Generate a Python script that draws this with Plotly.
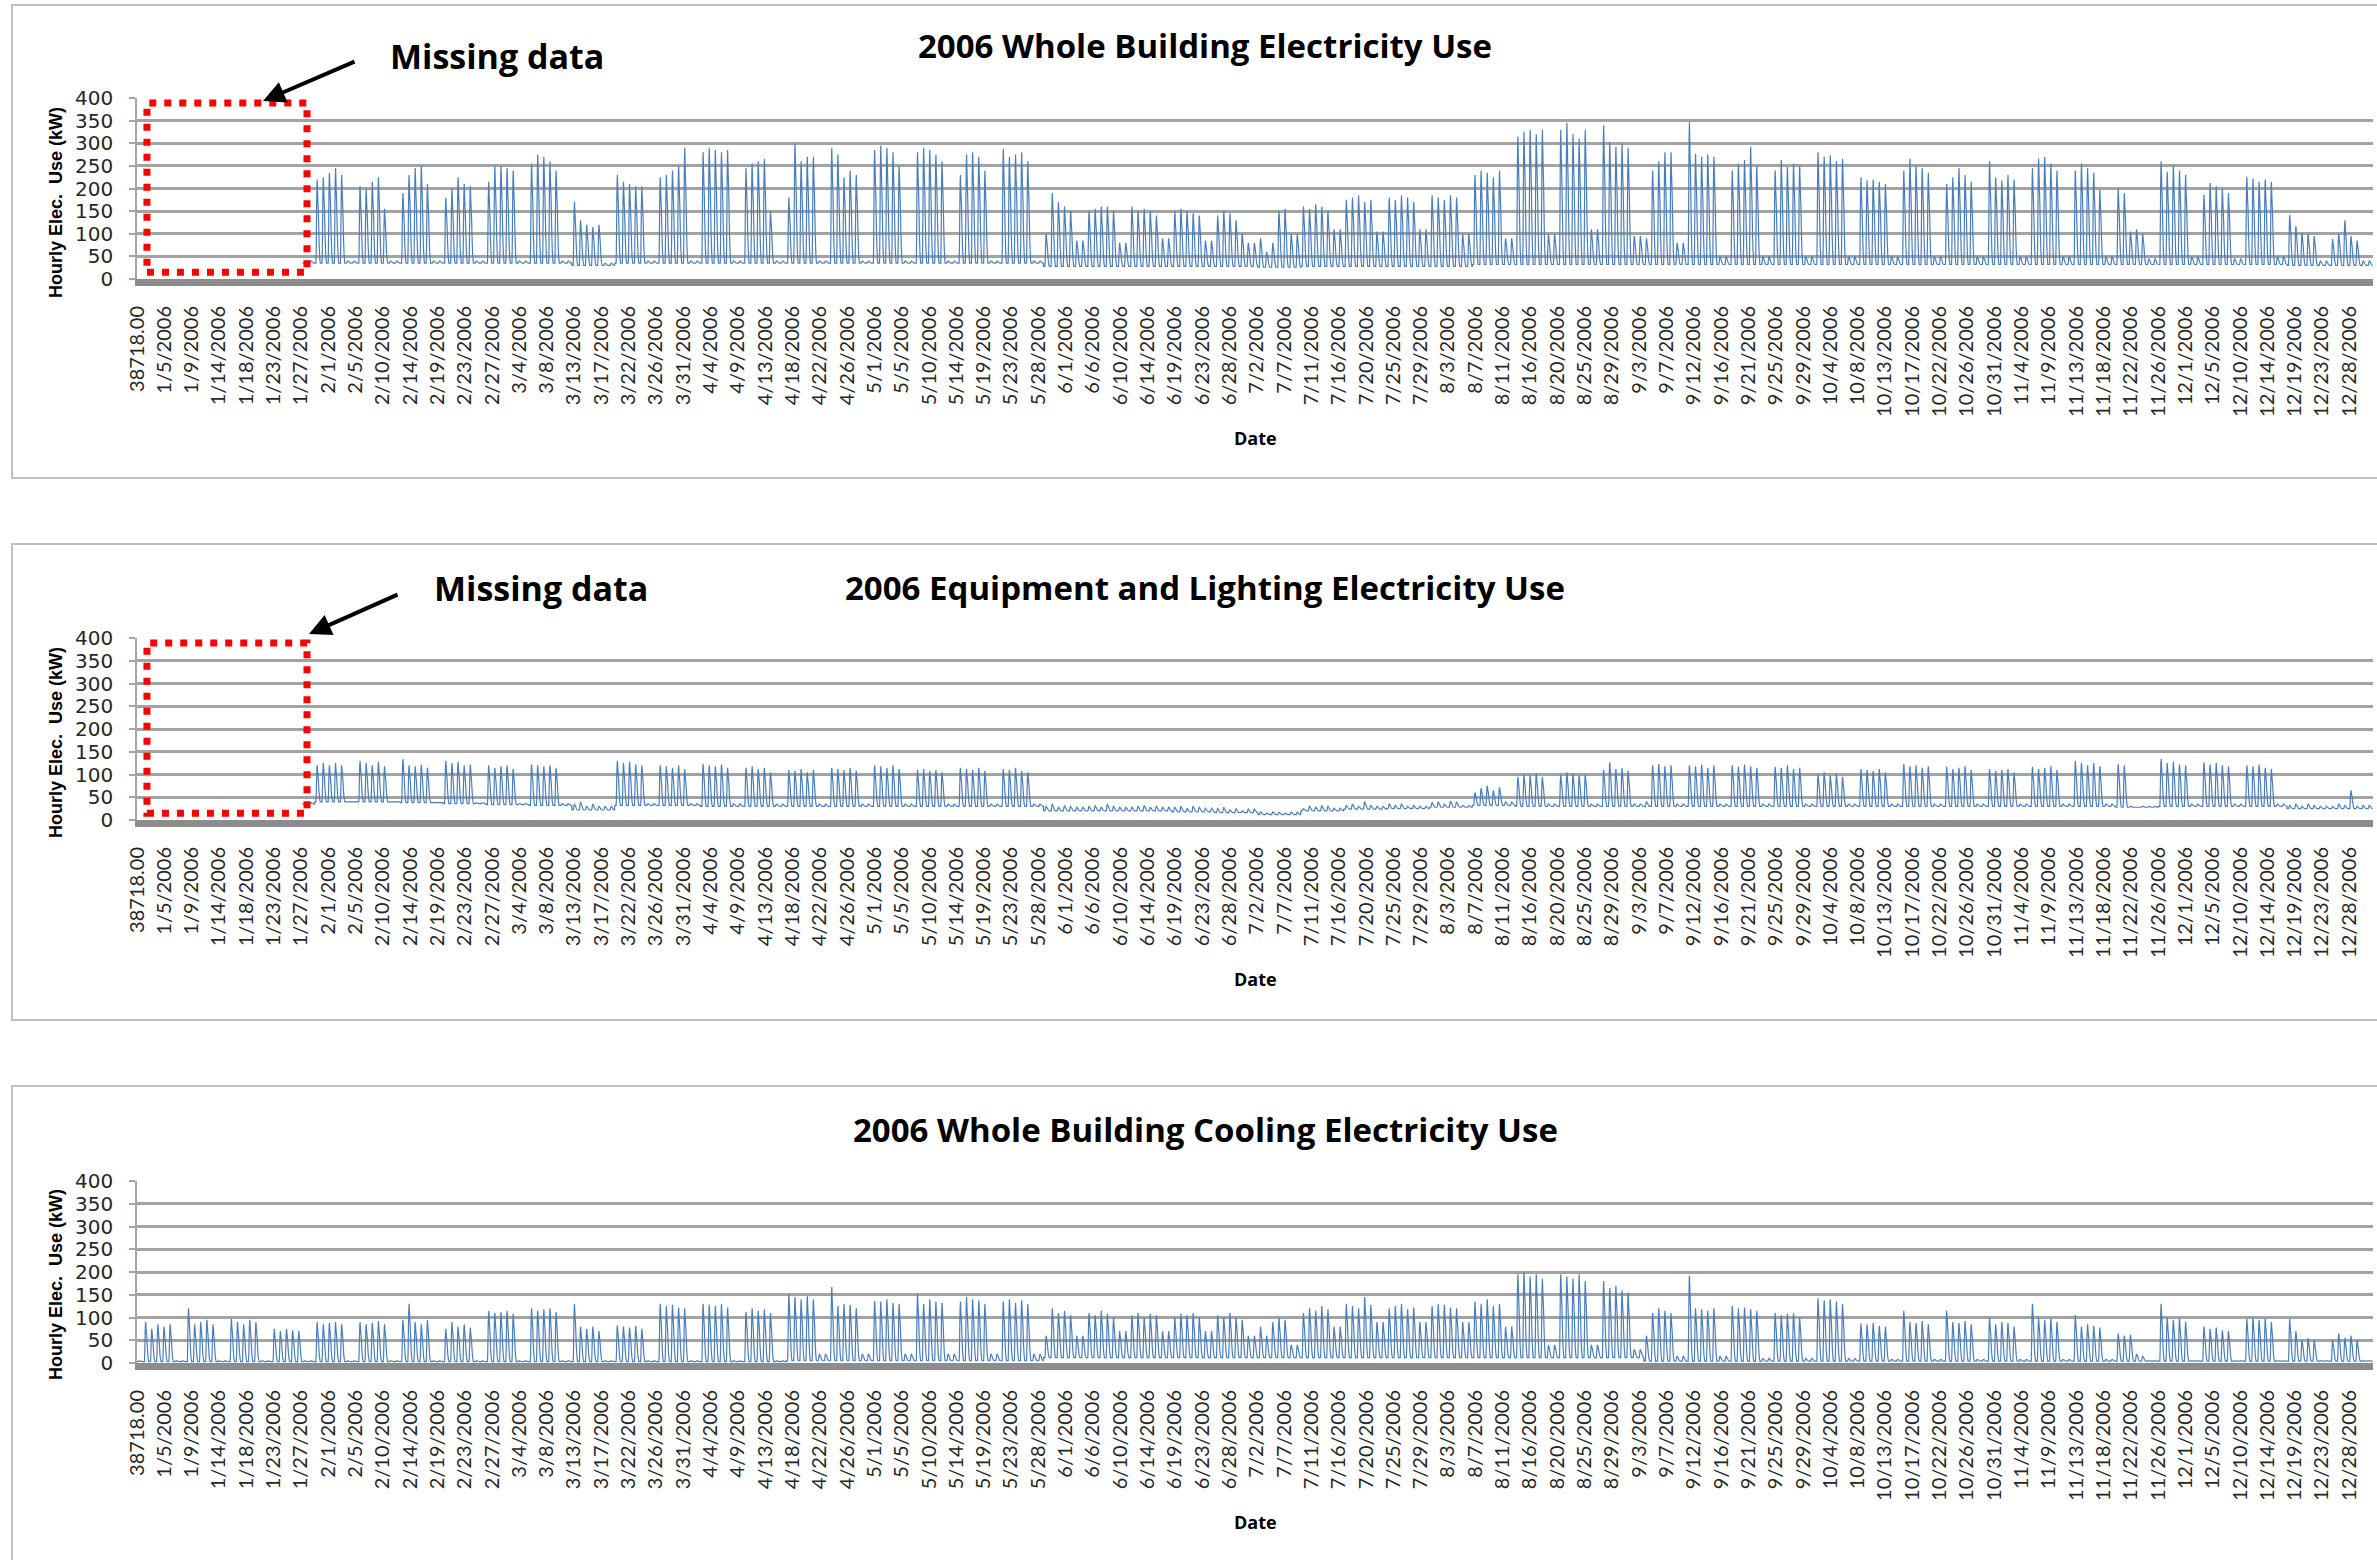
import datetime as dt
import plotly.graph_objects as go

W, H = 2377, 1560
YEAR_START = dt.date(2006, 1, 1)
HOURS = 8760

# ---------------- tick labels (Excel category axis, one label every 107 hours) ----------------
tick_labels = ["38718.00", "1/5/2006", "1/9/2006", "1/14/2006", "1/18/2006", "1/23/2006", "1/27/2006",
               "2/1/2006", "2/5/2006", "2/10/2006", "2/14/2006", "2/19/2006", "2/23/2006", "2/27/2006",
               "3/4/2006", "3/8/2006", "3/13/2006", "3/17/2006", "3/22/2006", "3/26/2006", "3/31/2006",
               "4/4/2006", "4/9/2006", "4/13/2006", "4/18/2006", "4/22/2006", "4/26/2006",
               "5/1/2006", "5/5/2006", "5/10/2006", "5/14/2006", "5/19/2006", "5/23/2006", "5/28/2006",
               "6/1/2006", "6/6/2006", "6/10/2006", "6/14/2006", "6/19/2006", "6/23/2006", "6/28/2006",
               "7/2/2006", "7/7/2006", "7/11/2006", "7/16/2006", "7/20/2006", "7/25/2006", "7/29/2006",
               "8/3/2006", "8/7/2006", "8/11/2006", "8/16/2006", "8/20/2006", "8/25/2006", "8/29/2006",
               "9/3/2006", "9/7/2006", "9/12/2006", "9/16/2006", "9/21/2006", "9/25/2006", "9/29/2006",
               "10/4/2006", "10/8/2006", "10/13/2006", "10/17/2006", "10/22/2006", "10/26/2006", "10/31/2006",
               "11/4/2006", "11/9/2006", "11/13/2006", "11/18/2006", "11/22/2006", "11/26/2006",
               "12/1/2006", "12/5/2006", "12/10/2006", "12/14/2006", "12/19/2006", "12/23/2006", "12/28/2006"]
tick_step_hours = 107

# ---------------- data ----------------
# Weekday (Mon-Fri) daily peaks, one row per week starting Monday 1/2/2006 (kW)
whole_peaks = [
    None, None, None, None,
    [220, 225, 235, 245, 230], [205, 200, 215, 225, 155], [190, 230, 245, 250, 210],
    [180, 200, 225, 210, 205], [215, 250, 250, 245, 240], [255, 275, 270, 260, 240],
    [170, 130, 120, 115, 120], [230, 215, 210, 205, 205], [225, 230, 240, 250, 290],
    [280, 290, 285, 280, 285], [245, 255, 260, 265, 150], [180, 300, 260, 270, 270],
    [290, 275, 225, 240, 230], [285, 295, 290, 280, 250], [280, 290, 285, 275, 260],
    [230, 275, 280, 270, 240], [288, 270, 275, 280, 260], [100, 190, 170, 160, 150],
    [150, 155, 160, 160, 150], [160, 150, 155, 150, 140], [150, 155, 150, 145, 140],
    [140, 150, 145, 130, 100], [90, 60, 80, 150, 155], [160, 155, 165, 160, 150],
    [175, 180, 185, 170, 175], [180, 175, 185, 180, 170], [185, 180, 175, 185, 180],
    [230, 240, 235, 225, 240], [315, 325, 330, 320, 330], [330, 345, 320, 310, 330],
    [340, 303, 292, 300, 290], [90, 240, 260, 280, 280], [347, 277, 270, 275, 270],
    [240, 255, 263, 292, 250], [240, 263, 248, 255, 250], [280, 270, 273, 260, 265],
    [225, 218, 220, 215, 210], [240, 266, 250, 245, 235], [210, 225, 245, 230, 215],
    [260, 225, 218, 230, 220], [245, 266, 270, 255, 240], [240, 255, 245, 235, 197],
    [200, 190, 105, 110, 100], [260, 237, 250, 240, 230], [186, 212, 205, 200, 190],
    [226, 222, 215, 220, 215], [142, 117, 102, 100, 95], [88, 100, 130, 95, 85],
]
whole_weekend = [40, 40, 40, 40, 40, 40, 40, 40, 40, 40, 35, 40, 40, 40, 40, 40, 40, 40, 40, 40, 40,
                 85, 80, 90, 85, 80, 100, 110, 105, 110, 100, 90, 100, 110, 95, 80,
                 50, 50, 50, 50, 50, 50, 50, 50, 50, 50, 45, 50, 45, 50, 40, 40]
whole_night = [35, 35, 35, 35, 35, 35, 35, 35, 35, 35, 30, 35, 35, 35, 35, 35, 35, 35, 35, 35, 35,
               28, 28, 28, 28, 28, 26, 28, 28, 28, 28, 32, 32, 32, 32, 32,
               32, 32, 32, 32, 32, 32, 32, 32, 32, 32, 32, 32, 32, 32, 30, 30]
whole_first_date = "2006-01-28"

equip_peaks = [
    None, None, None, None,
    [120, 125, 120, 125, 120], [130, 125, 120, 128, 118], [134, 120, 118, 122, 115],
    [130, 125, 128, 120, 122], [120, 115, 118, 120, 112], [122, 120, 118, 120, 115],
    [35, 40, 30, 35, 30], [130, 125, 128, 122, 120], [120, 118, 115, 120, 112],
    [123, 120, 118, 122, 115], [115, 118, 112, 115, 105], [110, 108, 112, 105, 110],
    [115, 112, 110, 115, 108], [120, 118, 115, 120, 112], [110, 112, 108, 110, 105],
    [115, 112, 110, 115, 108], [112, 110, 115, 108, 105], [30, 35, 28, 32, 30],
    [30, 32, 28, 35, 30], [28, 30, 32, 28, 30], [28, 30, 25, 30, 28],
    [25, 28, 22, 25, 20], [18, 15, 18, 17, 15], [25, 30, 28, 32, 30],
    [32, 35, 30, 40, 32], [35, 32, 35, 30, 32], [38, 40, 35, 42, 40],
    [60, 70, 75, 65, 72], [95, 100, 98, 102, 95], [100, 105, 102, 98, 100],
    [110, 127, 112, 115, 108], [40, 120, 123, 118, 120], [120, 118, 122, 115, 120],
    [120, 117, 122, 118, 115], [117, 115, 120, 112, 115], [100, 105, 98, 102, 95],
    [112, 110, 108, 112, 105], [123, 118, 120, 115, 118], [117, 112, 115, 118, 110],
    [112, 108, 110, 112, 105], [117, 112, 115, 118, 110], [130, 125, 120, 125, 118],
    [123, 120, 30, 28, 30], [134, 125, 128, 122, 120], [127, 122, 125, 120, 118],
    [120, 118, 122, 115, 112], [32, 35, 30, 35, 32], [30, 35, 32, 65, 30],
]
equip_weekend = [38, 38, 38, 38, 40, 40, 38, 38, 36, 36, 30, 36, 36, 36, 35, 35, 35, 35, 35, 35, 35,
                 28, 28, 28, 26, 24, 17, 26, 30, 30, 32, 40, 35, 35, 35, 35,
                 35, 35, 35, 35, 35, 35, 35, 35, 35, 35, 30, 35, 35, 35, 30, 32]
equip_night = [35, 35, 35, 35, 40, 40, 38, 36, 34, 32, 22, 32, 32, 30, 30, 30, 30, 30, 30, 30, 30,
               20, 20, 20, 18, 16, 12, 20, 24, 25, 28, 32, 30, 30, 30, 30,
               30, 30, 30, 30, 30, 30, 30, 30, 30, 30, 28, 30, 30, 30, 25, 25]
equip_first_date = "2006-01-28"

cool_peaks = [
    [90, 75, 85, 80, 85], [120, 85, 90, 95, 85], [97, 90, 85, 95, 90],
    [75, 70, 75, 72, 70], [90, 85, 88, 90, 85], [90, 85, 88, 92, 85],
    [95, 130, 90, 85, 95], [75, 90, 80, 85, 78], [115, 110, 112, 115, 108],
    [120, 115, 118, 120, 112], [130, 80, 75, 80, 70], [83, 80, 78, 82, 75],
    [130, 125, 128, 122, 120], [130, 128, 125, 130, 122], [112, 120, 115, 118, 110],
    [152, 145, 140, 148, 140], [167, 125, 130, 128, 120], [137, 135, 140, 132, 130],
    [152, 130, 140, 135, 132], [135, 145, 140, 138, 130], [135, 140, 132, 138, 130],
    [60, 120, 110, 115, 105], [110, 105, 115, 108, 100], [105, 110, 100, 108, 105],
    [100, 108, 105, 110, 100], [105, 100, 110, 100, 95], [80, 60, 90, 100, 95],
    [110, 120, 115, 125, 118], [130, 125, 120, 145, 128], [120, 125, 130, 118, 122],
    [125, 130, 128, 122, 120], [135, 130, 140, 125, 130], [195, 200, 190, 195, 185],
    [195, 190, 185, 195, 180], [180, 165, 170, 160, 155], [60, 110, 120, 115, 110],
    [192, 120, 118, 115, 120], [125, 120, 122, 118, 115], [110, 105, 108, 110, 100],
    [142, 138, 140, 135, 130], [87, 85, 88, 82, 80], [115, 90, 88, 92, 85],
    [115, 90, 88, 92, 85], [100, 85, 90, 88, 80], [130, 100, 95, 98, 90],
    [105, 80, 85, 82, 78], [65, 60, 62, 20, 15], [130, 100, 95, 98, 90],
    [80, 75, 78, 72, 70], [97, 100, 95, 98, 90], [97, 70, 50, 55, 50],
    [50, 65, 55, 60, 50],
]
cool_weekend = [5, 5, 5, 5, 5, 5, 5, 5, 5, 5, 5, 5, 5, 5, 5, 20, 20, 20, 20, 20, 20,
                60, 70, 70, 70, 60, 40, 80, 90, 90, 90, 80, 40, 40, 30,
                15, 15, 10, 10, 10, 8, 8, 8, 8, 8, 8, 5, 5, 5, 5, 5, 5]
cool_night = [3, 3, 3, 3, 3, 3, 3, 3, 3, 3, 3, 3, 3, 3, 3, 5, 5, 5, 5, 5, 5,
              12, 12, 12, 12, 12, 12, 12, 12, 12, 12, 12, 12, 12, 12,
              4, 4, 4, 4, 4, 4, 4, 4, 4, 4, 4, 4, 4, 4, 4, 4, 4]
cool_first_date = "2006-01-01"

# typical within-day load shape (fraction of the day's peak above the night level)
hour_shape = [0.0, 0.0, 0.0, 0.0, 0.0, 0.0, 0.15, 0.45, 0.75, 0.92, 1.0, 0.9,
              0.8, 0.72, 0.65, 0.55, 0.42, 0.3, 0.2, 0.12, 0.07, 0.03, 0.0, 0.0]

titles = ["2006 Whole Building Electricity Use",
          "2006 Equipment and Lighting Electricity Use",
          "2006 Whole Building Cooling Electricity Use"]


def hourly(peaks, weekend, night, first_date):
    first_day = (dt.date.fromisoformat(first_date) - YEAR_START).days
    xs, ys = [], []
    for h in range(HOURS):
        d, hod = divmod(h, 24)
        xs.append(h)
        if d < first_day:
            ys.append(None)
            continue
        wk = max(0, (d - 1) // 7)
        dow = (d - 1) % 7
        base = night[wk]
        if dow < 5 and peaks[wk] is not None:
            pk = peaks[wk][dow]
        else:
            pk = weekend[wk]
        ys.append(base + (pk - base) * hour_shape[hod])
    return xs, ys


series = [hourly(whole_peaks, whole_weekend, whole_night, whole_first_date),
          hourly(equip_peaks, equip_weekend, equip_night, equip_first_date),
          hourly(cool_peaks, cool_weekend, cool_night, cool_first_date)]

# ---------------- layout helpers (pixel -> paper) ----------------
def px(x):
    return x / W


def py(y):
    return 1 - y / H


panels = [
    dict(box=(5, 478), top=98, bottom=279, title=45, date=438, ylab=203),
    dict(box=(544, 1020), top=638, bottom=820, title=587, date=979, ylab=743),
    dict(box=(1086, 1620), top=1181, bottom=1363, title=1129, date=1522, ylab=1285),
]

PLOT_LEFT, PLOT_RIGHT = 137, 2373
LINE_COLOR = "#4a7ebb"
TICK_FONT = "Lato, 'Open Sans', sans-serif"
TITLE_FONT = "'Open Sans', Lato, sans-serif"

fig = go.Figure()
shapes, annotations = [], []
layout = dict(width=W, height=H, margin=dict(l=0, r=0, t=0, b=0, pad=0), autosize=False,
              paper_bgcolor="white", plot_bgcolor="white", showlegend=False)

tickvals = [i * tick_step_hours for i in range(len(tick_labels))]

for i, (p, (xs, ys)) in enumerate(zip(panels, series)):
    n = "" if i == 0 else str(i + 1)
    fig.add_trace(go.Scatter(x=xs, y=ys, mode="lines", connectgaps=False,
                             line=dict(color=LINE_COLOR, width=1.2, simplify=False),
                             xaxis="x" + n, yaxis="y" + n, hoverinfo="skip"))
    layout["xaxis" + n] = dict(
        domain=[px(PLOT_LEFT), px(PLOT_RIGHT)], anchor="y" + n, range=[0, HOURS],
        tickmode="array", tickvals=tickvals, ticktext=tick_labels, tickangle=-90,
        tickfont=dict(family=TICK_FONT, size=20, color="#262626"),
        showgrid=False, zeroline=False, showline=True, linecolor="#8c8c8c", linewidth=7,
        ticks="", ticklabelstandoff=12, automargin=False)
    layout["yaxis" + n] = dict(
        domain=[py(p["bottom"]), py(p["top"])], anchor="x" + n, range=[0, 400],
        tickmode="linear", tick0=0, dtick=50,
        tickfont=dict(family="'DejaVu Sans', sans-serif", size=20, color="#262626"),
        showgrid=True, gridcolor="#a3a3a3", gridwidth=2.5, zeroline=False,
        showline=True, linecolor="#a6a6a6", linewidth=1.5,
        ticks="outside", ticklen=6, tickwidth=2, tickcolor="#a3a3a3", ticklabelstandoff=12,
        automargin=False)

    shapes.append(dict(type="rect", xref="paper", yref="paper",
                       x0=px(12), x1=px(W + 20), y0=py(p["box"][1]), y1=py(p["box"][0]),
                       line=dict(color="#bfbfbf", width=2), fillcolor="rgba(0,0,0,0)", layer="below"))
    annotations.append(dict(text=titles[i], xref="paper", yref="paper", x=px(1205), y=py(p["title"]),
                            xanchor="center", yanchor="middle", showarrow=False,
                            font=dict(family=TITLE_FONT, size=33, color="black", weight="bold")))
    annotations.append(dict(text="Hourly Elec.&nbsp; Use (kW)", xref="paper", yref="paper",
                            x=px(56), y=py(p["ylab"]), xanchor="center", yanchor="middle",
                            textangle=-90, showarrow=False,
                            font=dict(family="'Liberation Sans', Arial, sans-serif", size=18,
                                      color="black", weight="bold")))
    annotations.append(dict(text="Date", xref="paper", yref="paper", x=px(1255), y=py(p["date"]),
                            xanchor="center", yanchor="middle", showarrow=False,
                            font=dict(family=TITLE_FONT, size=18, color="black", weight="bold")))

missing = [dict(xa="x", ya="y", text_xy=(497, 56), head=(263, 101), tail=(356, 61)),
           dict(xa="x2", ya="y2", text_xy=(541, 588), head=(309, 634), tail=(399, 594))]
for m in missing:
    shapes.append(dict(type="rect", xref=m["xa"], yref=m["ya"], x0=39, x1=666, y0=15, y1=389,
                       line=dict(color="#ff0000", width=7, dash="7px,8px"),
                       fillcolor="rgba(0,0,0,0)", layer="above"))
    annotations.append(dict(text="Missing data", xref="paper", yref="paper",
                            x=px(m["text_xy"][0]), y=py(m["text_xy"][1]),
                            xanchor="center", yanchor="middle", showarrow=False,
                            font=dict(family=TITLE_FONT, size=34, color="black", weight="bold")))
    annotations.append(dict(text="", xref="paper", yref="paper",
                            x=px(m["head"][0]), y=py(m["head"][1]),
                            ax=m["tail"][0] - m["head"][0], ay=m["tail"][1] - m["head"][1],
                            axref="pixel", ayref="pixel", showarrow=True,
                            arrowhead=2, arrowsize=1.1, arrowwidth=4, arrowcolor="black"))

layout["shapes"] = shapes
layout["annotations"] = annotations
fig.update_layout(**layout)
fig.write_html("out.html", config={"displayModeBar": False},
               post_script="document.body.style.margin='0';document.body.style.padding='0';"
                           "document.documentElement.style.overflow='hidden';"
                           "document.body.style.overflow='hidden';")
